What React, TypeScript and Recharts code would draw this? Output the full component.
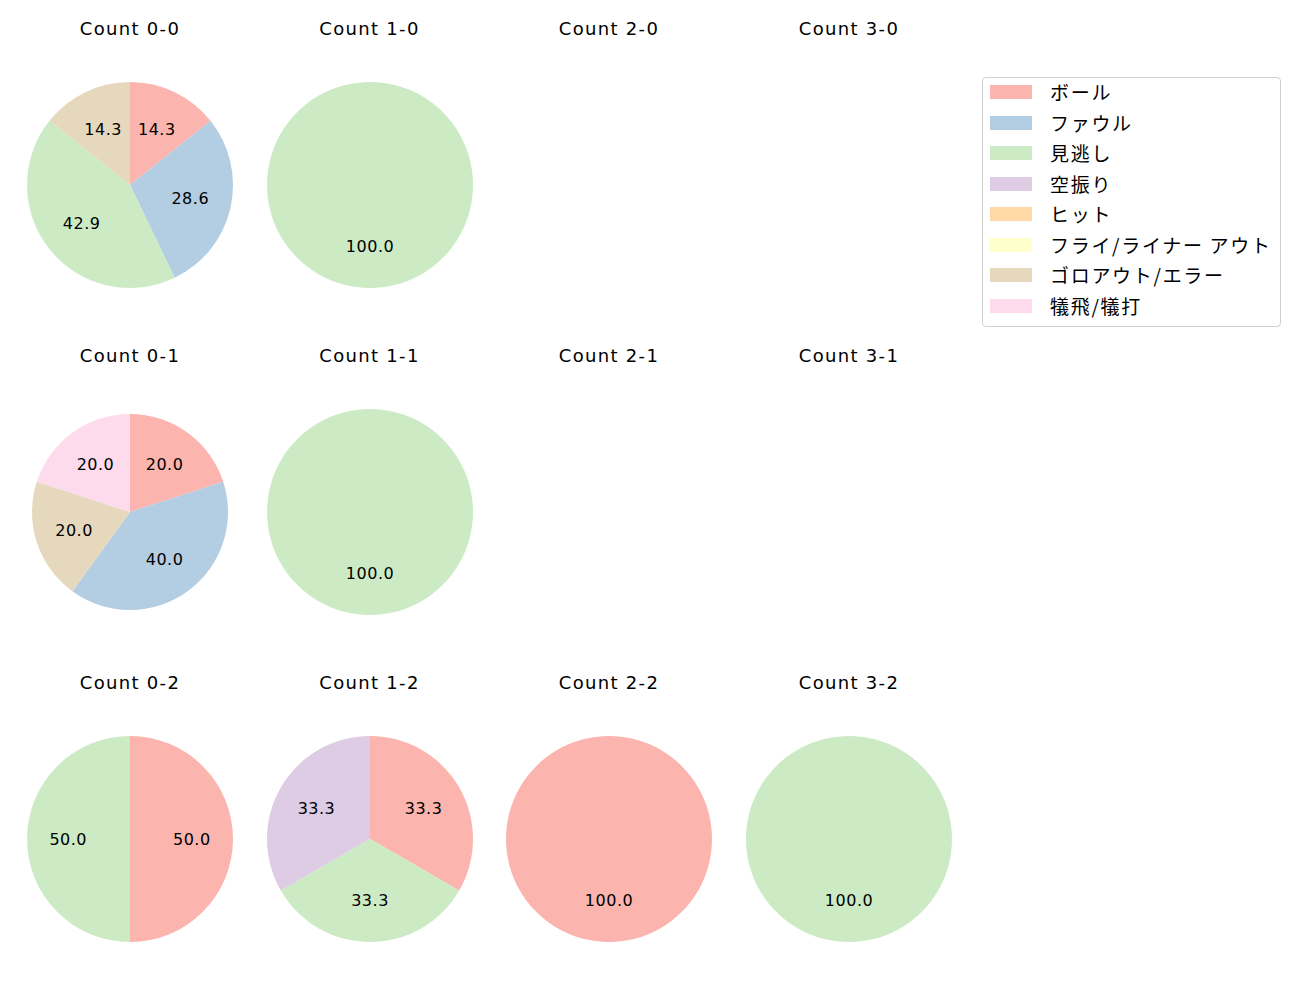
import { PieChart, Pie, Cell } from 'recharts';

// #region Sample data
const categories = ['ボール', 'ファウル', '見逃し', '空振り', 'ヒット', 'フライ/ライナー アウト', 'ゴロアウト/エラー', '犠飛/犠打'];
const colors = ['#fbb4ae', '#b3cde3', '#ccebc5', '#decbe4', '#fed9a6', '#ffffcc', '#e5d8bd', '#fddaec'];

const count00 = [1, 2, 3, 0, 0, 0, 1, 0];
const count10 = [0, 0, 1, 0, 0, 0, 0, 0];
const count01 = [1, 2, 0, 0, 0, 0, 1, 1];
const count11 = [0, 0, 1, 0, 0, 0, 0, 0];
const count02 = [1, 0, 1, 0, 0, 0, 0, 0];
const count12 = [1, 0, 1, 1, 0, 0, 0, 0];
const count22 = [1, 0, 0, 0, 0, 0, 0, 0];
const count32 = [0, 0, 1, 0, 0, 0, 0, 0];
// #endregion

const panels = [
  { title: 'Count 0-0', values: count00, col: 0, row: 0, r: 103 },
  { title: 'Count 1-0', values: count10, col: 1, row: 0, r: 103 },
  { title: 'Count 2-0', values: null, col: 2, row: 0, r: 103 },
  { title: 'Count 3-0', values: null, col: 3, row: 0, r: 103 },
  { title: 'Count 0-1', values: count01, col: 0, row: 1, r: 98 },
  { title: 'Count 1-1', values: count11, col: 1, row: 1, r: 103 },
  { title: 'Count 2-1', values: null, col: 2, row: 1, r: 103 },
  { title: 'Count 3-1', values: null, col: 3, row: 1, r: 103 },
  { title: 'Count 0-2', values: count02, col: 0, row: 2, r: 103 },
  { title: 'Count 1-2', values: count12, col: 1, row: 2, r: 103 },
  { title: 'Count 2-2', values: count22, col: 2, row: 2, r: 103 },
  { title: 'Count 3-2', values: count32, col: 3, row: 2, r: 103 },
];

const colX = [130, 369.5, 609, 849];
const rowY = [185, 512, 839];
const titleY = [29, 356, 683];
const FONT = '"DejaVu Sans", "Noto Sans CJK JP", sans-serif';
const CJK = '"Noto Sans CJK JP", sans-serif';
const RAD = Math.PI / 180;

const renderLabel = (props: any) => {
  const { cx, cy, midAngle, outerRadius, percent } = props;
  const x = cx + 0.6 * outerRadius * Math.cos(-midAngle * RAD);
  const y = cy + 0.6 * outerRadius * Math.sin(-midAngle * RAD);
  return (
    <text x={x} y={y} textAnchor="middle" dominantBaseline="central" fill="#000" fontSize={16} fontFamily={FONT} letterSpacing={0.5}>
      {(percent * 100).toFixed(1)}
    </text>
  );
};

const SIZE = 240;

const App = () => {
  return (
    <div style={{ position: 'absolute', left: 0, top: 0, width: 1300, height: 1000, background: '#fff', fontFamily: FONT }}>
      {panels.map((p) => {
        const cx = colX[p.col];
        const cy = rowY[p.row];
        const data = p.values
          ? categories.map((name, i) => ({ name, value: p.values![i], color: colors[i] })).filter((d) => d.value > 0)
          : [];
        return (
          <div key={p.title}>
            <div
              style={{
                position: 'absolute',
                left: cx - 100,
                width: 200,
                top: titleY[p.row] - 12,
                height: 24,
                lineHeight: '24px',
                textAlign: 'center',
                fontSize: 18,
                letterSpacing: 1.3,
                color: '#000',
              }}
            >
              {p.title}
            </div>
            {data.length > 0 && (
              <div style={{ position: 'absolute', left: cx - SIZE / 2, top: cy - SIZE / 2 }}>
                <PieChart width={SIZE} height={SIZE} margin={{ top: 0, right: 0, bottom: 0, left: 0 }}>
                  <Pie
                    data={data}
                    dataKey="value"
                    nameKey="name"
                    cx="50%"
                    cy="50%"
                    outerRadius={p.r}
                    startAngle={90}
                    endAngle={-270}
                    stroke="none"
                    label={renderLabel}
                    labelLine={false}
                    isAnimationActive={false}
                  >
                    {data.map((d) => (
                      <Cell key={d.name} fill={d.color} />
                    ))}
                  </Pie>
                </PieChart>
              </div>
            )}
          </div>
        );
      })}
      <div
        style={{
          position: 'absolute',
          left: 982,
          top: 77,
          width: 299,
          height: 250,
          border: '1px solid #d0d0d0',
          borderRadius: 4,
          boxSizing: 'border-box',
          fontFamily: CJK,
        }}
      >
        {categories.map((c, i) => (
          <div key={c} style={{ position: 'absolute', left: 7, top: 7 + i * 30.5, height: 14, display: 'flex', alignItems: 'center' }}>
            <div style={{ width: 42, height: 14, background: colors[i] }} />
            <div style={{ marginLeft: 18, fontSize: 19, letterSpacing: 1.7, whiteSpace: 'nowrap', color: '#000', lineHeight: '14px' }}>{c}</div>
          </div>
        ))}
      </div>
    </div>
  );
};

export default App;
